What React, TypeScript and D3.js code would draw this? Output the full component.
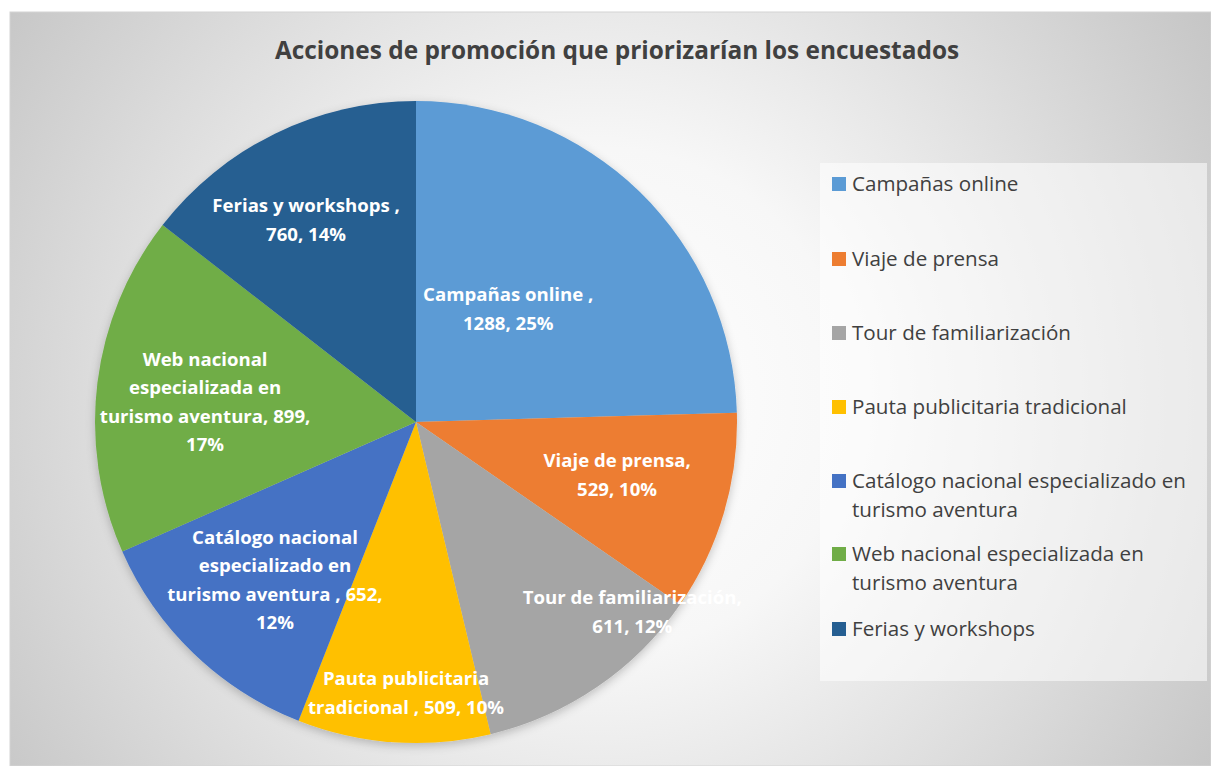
import * as d3 from "d3";

const categories = [
  "Campañas online",
  "Viaje de prensa",
  "Tour de familiarización",
  "Pauta publicitaria tradicional",
  "Catálogo nacional especializado en turismo aventura",
  "Web nacional especializada en turismo aventura",
  "Ferias y workshops",
];
const values = [1288, 529, 611, 509, 652, 899, 760];
const colors = ["#5B9BD5", "#ED7D31", "#A5A5A5", "#FFC000", "#4472C4", "#70AD47", "#255E91"];

// data label lines as Excel wrapped them
const labelLines = [
  ["Campañas online ,", "1288, 25%"],
  ["Viaje de prensa,", "529, 10%"],
  ["Tour de familiarización,", "611, 12%"],
  ["Pauta publicitaria", "tradicional , 509, 10%"],
  ["Catálogo nacional", "especializado en", "turismo aventura , 652,", "12%"],
  ["Web nacional", "especializada en", "turismo aventura, 899,", "17%"],
  ["Ferias y workshops ,", "760, 14%"],
];
// legend wrapping
const legendLines = [
  ["Campañas online"],
  ["Viaje de prensa"],
  ["Tour de familiarización"],
  ["Pauta publicitaria tradicional"],
  ["Catálogo nacional especializado en", "turismo aventura"],
  ["Web nacional especializada en", "turismo aventura"],
  ["Ferias y workshops"],
];
// label placement: fraction of radius and angle nudge (degrees)
const labelRadius = [0.455, 0.648, 0.897, 0.845, 0.66, 0.66, 0.716];
const labelNudge = [-5, -1.7, -14.3, -1.9, -2.1, -1.6, -2.5];

const W = 1211;
const H = 766;
const FONT = "'Open Sans', Lato, sans-serif";

export default function App() {
  const cx = 416;
  const cy = 422;
  const r = 321;

  const pie = d3.pie<number>().sort(null).value((d) => d);
  const arcs = pie(values);
  const arc = d3.arc<d3.PieArcDatum<number>>().innerRadius(0).outerRadius(r);

  const legendY = [184, 259, 333, 407, 481, 554, 629];

  return (
    <svg
      width={W}
      height={H}
      style={{ position: "absolute", left: 0, top: 0 }}
      fontFamily={FONT}
    >
      <defs>
        <radialGradient id="bg" cx="600" cy="400" r="720" gradientUnits="userSpaceOnUse">
          <stop offset="0" stopColor="#ffffff" />
          <stop offset="0.35" stopColor="#f7f7f7" />
          <stop offset="1" stopColor="#c6c6c6" />
        </radialGradient>
        <filter id="shadow" x="-20%" y="-20%" width="140%" height="140%">
          <feDropShadow dx="0" dy="3" stdDeviation="5" floodColor="#000" floodOpacity="0.22" />
        </filter>
      </defs>
      <rect x={0} y={0} width={W} height={H} fill="#ffffff" />
      <rect x={10} y={12} width={W - 10} height={H - 12} fill="url(#bg)" stroke="#d4d4d4" strokeWidth={1} />

      <text
        x={617}
        y={59}
        textAnchor="middle"
        fontSize={24.4}
        fontWeight={700}
        fill="#404040"
      >
        Acciones de promoción que priorizarían los encuestados
      </text>

      <g transform={`translate(${cx},${cy})`}>
        <g filter="url(#shadow)">
          {arcs.map((a, i) => (
            <path key={i} d={arc(a) || ""} fill={colors[i]} />
          ))}
        </g>
        {arcs.map((a, i) => {
          const mid = (a.startAngle + a.endAngle) / 2 + (labelNudge[i] * Math.PI) / 180;
          const rr = r * labelRadius[i];
          const x = Math.sin(mid) * rr;
          const y = -Math.cos(mid) * rr;
          const lines = labelLines[i];
          const lh = 28.5;
          const y0 = y - ((lines.length - 1) * lh) / 2;
          return (
            <text
              key={i}
              x={x}
              textAnchor="middle"
              fontSize={18.6}
              fontWeight={700}
              fill="#ffffff"
            >
              {lines.map((l, j) => (
                <tspan key={j} x={x} y={y0 + j * lh} dy="0.35em">
                  {l}
                </tspan>
              ))}
            </text>
          );
        })}
      </g>

      <rect x={820} y={163} width={387} height={518} fill="#ffffff" fillOpacity={0.55} />
      {categories.map((c, i) => (
        <g key={c}>
          <rect x={832} y={legendY[i] - 7} width={14} height={14} fill={colors[i]} />
          <text fontSize={20.6} fill="#404040">
            {legendLines[i].map((l, j) => (
              <tspan key={j} x={852} y={legendY[i] + j * 29} dy="0.35em">
                {l}
              </tspan>
            ))}
          </text>
        </g>
      ))}
    </svg>
  );
}
